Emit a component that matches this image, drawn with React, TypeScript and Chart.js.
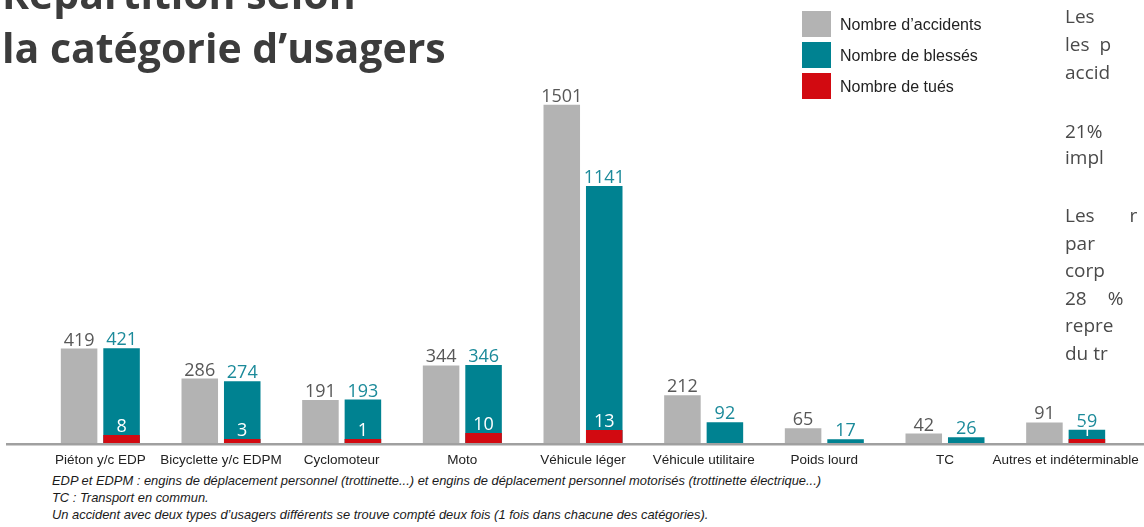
import React, { useEffect, useRef } from "react";
import { Chart, registerables } from "chart.js";

Chart.register(...registerables);

const categories = [
  "Piéton y/c EDP",
  "Bicyclette y/c EDPM",
  "Cyclomoteur",
  "Moto",
  "Véhicule léger",
  "Véhicule utilitaire",
  "Poids lourd",
  "TC",
  "Autres et indéterminable",
];
const accidents = [419, 286, 191, 344, 1501, 212, 65, 42, 91];
const blesses = [421, 274, 193, 346, 1141, 92, 17, 26, 59];
const tues = [8, 3, 1, 10, 13, 0, 0, 0, 1];

const legendItems = [
  { label: "Nombre d’accidents", color: "#b3b3b3" },
  { label: "Nombre de blessés", color: "#008291" },
  { label: "Nombre de tués", color: "#d20a11" },
];

const footnotes = [
  "EDP et EDPM : engins de déplacement personnel (trottinette...) et engins de déplacement personnel motorisés (trottinette électrique...)",
  "TC : Transport en commun.",
  "Un accident avec deux types d’usagers différents se trouve compté deux fois (1 fois dans chacune des catégories).",
];

const sideLines: { text: string; y: number; ws: number }[] = [
  { text: "Les", y: 16, ws: 0 },
  { text: "les p", y: 44, ws: 5 },
  { text: "accid", y: 72, ws: 0 },
  { text: "21%", y: 131, ws: 0 },
  { text: "impl", y: 157, ws: 0 },
  { text: "Les r", y: 215, ws: 30 },
  { text: "par", y: 243, ws: 0 },
  { text: "corp", y: 270, ws: 0 },
  { text: "28 %", y: 298, ws: 16 },
  { text: "repre", y: 325, ws: 0 },
  { text: "du tr", y: 353, ws: 0 },
];

const labelPlugin = {
  id: "valueLabels",
  beforeDatasetsDraw(chart: any) {
    const ctx = chart.ctx;
    const y0 = chart.scales.y.getPixelForValue(0);
    ctx.save();
    ctx.fillStyle = "#a0a0a0";
    ctx.fillRect(6, y0, chart.width - 6, 2.5);
    ctx.restore();
  },
  afterDatasetsDraw(chart: any) {
    const ctx = chart.ctx;
    ctx.save();
    ctx.font = '400 18px "Open Sans"';
    ctx.textAlign = "center";
    ctx.textBaseline = "alphabetic";
    const metaA = chart.getDatasetMeta(0);
    metaA.data.forEach((bar: any, i: number) => {
      ctx.fillStyle = "#585858";
      ctx.fillText(String(accidents[i]), bar.x, bar.y - 3);
    });
    const metaB = chart.getDatasetMeta(2);
    metaB.data.forEach((bar: any, i: number) => {
      ctx.fillStyle = "#1b8a9a";
      ctx.fillText(String(blesses[i]), bar.x, bar.y - 3);
    });
    const metaT = chart.getDatasetMeta(1);
    metaT.data.forEach((bar: any, i: number) => {
      if (!tues[i]) return;
      ctx.fillStyle = "#ffffff";
      ctx.fillText(String(tues[i]), bar.x, bar.y - 3);
    });
    ctx.restore();
  },
};

export default function App() {
  const ref = useRef<HTMLCanvasElement>(null);
  useEffect(() => {
    if (!ref.current) return;
    const chart = new Chart(ref.current, {
      type: "bar",
      data: {
        labels: categories,
        datasets: [
          {
            label: legendItems[0].label,
            data: accidents,
            backgroundColor: legendItems[0].color,
            stack: "a",
            yAxisID: "y",
          },
          {
            label: legendItems[2].label,
            data: tues.map((v) => (v ? v : null)),
            backgroundColor: legendItems[2].color,
            stack: "b",
            yAxisID: "y2",
            minBarLength: 4,
          },
          {
            label: legendItems[1].label,
            data: blesses,
            backgroundColor: legendItems[1].color,
            stack: "b",
            yAxisID: "y",
          },
        ],
      },
      options: {
        responsive: false,
        animation: false,
        devicePixelRatio: 1,
        datasets: {
          bar: { categoryPercentage: 0.704, barPercentage: 0.86 },
        },
        layout: { padding: { left: 40, right: 18, top: 60, bottom: 0 } },
        plugins: {
          legend: { display: false },
          tooltip: { enabled: false },
        },
        scales: {
          x: {
            grid: { display: false, drawTicks: false },
            border: { display: false },
            ticks: {
              padding: 9,
              color: "#222222",
              font: { family: '"Liberation Sans", Arial, sans-serif', size: 13.5 },
              maxRotation: 0,
              autoSkip: false,
            },
            afterFit: (scale: any) => {
              scale.height = 27;
              scale.paddingLeft = 0;
              scale.paddingRight = 0;
            },
          },
          y: { display: false, min: 0, max: 1700 },
          y2: { display: false, min: 0, max: 383 },
        },
      },
      plugins: [labelPlugin],
    });
    return () => chart.destroy();
  }, []);

  return (
    <div
      style={{
        position: "absolute",
        left: 0,
        top: 0,
        width: 1144,
        height: 527,
        overflow: "hidden",
        background: "#ffffff",
      }}
    >
      <canvas
        ref={ref}
        width={1144}
        height={470}
        style={{ position: "absolute", left: 0, top: 0, display: "block" }}
      />
      <div
        style={{
          position: "absolute",
          left: 2,
          top: -34,
          fontFamily: '"Open Sans", sans-serif',
          fontWeight: 700,
          fontSize: 41,
          lineHeight: "54px",
          color: "#3c3c3c",
          whiteSpace: "nowrap",
        }}
      >
        <div>Répartition selon</div>
        <div>la catégorie d’usagers</div>
      </div>
      {legendItems.map((it, i) => (
        <div key={it.label}>
          <div
            style={{
              position: "absolute",
              left: 802,
              top: 11 + i * 31,
              width: 29,
              height: 26,
              background: it.color,
            }}
          />
          <div
            style={{
              position: "absolute",
              left: 840,
              top: 15 + i * 31,
              fontFamily: '"Liberation Sans", Arial, sans-serif',
              fontSize: 16,
              lineHeight: "20px",
              color: "#222222",
              whiteSpace: "nowrap",
            }}
          >
            {it.label}
          </div>
        </div>
      ))}
      {sideLines.map((l, i) => (
        <div
          key={i}
          style={{
            position: "absolute",
            left: 1065,
            top: l.y - 13,
            fontFamily: '"Open Sans", sans-serif',
            fontWeight: 400,
            fontSize: 19,
            lineHeight: "26px",
            color: "#4a4a4a",
            whiteSpace: "pre",
            wordSpacing: l.ws,
          }}
        >
          {l.text}
        </div>
      ))}
      {footnotes.map((t, i) => (
        <div
          key={i}
          style={{
            position: "absolute",
            left: 52,
            top: 472 + i * 17,
            fontFamily: '"Liberation Sans", Arial, sans-serif',
            fontStyle: "italic",
            fontSize: 12.9,
            lineHeight: "17px",
            color: "#1a1a1a",
            whiteSpace: "nowrap",
          }}
        >
          {t}
        </div>
      ))}
    </div>
  );
}
